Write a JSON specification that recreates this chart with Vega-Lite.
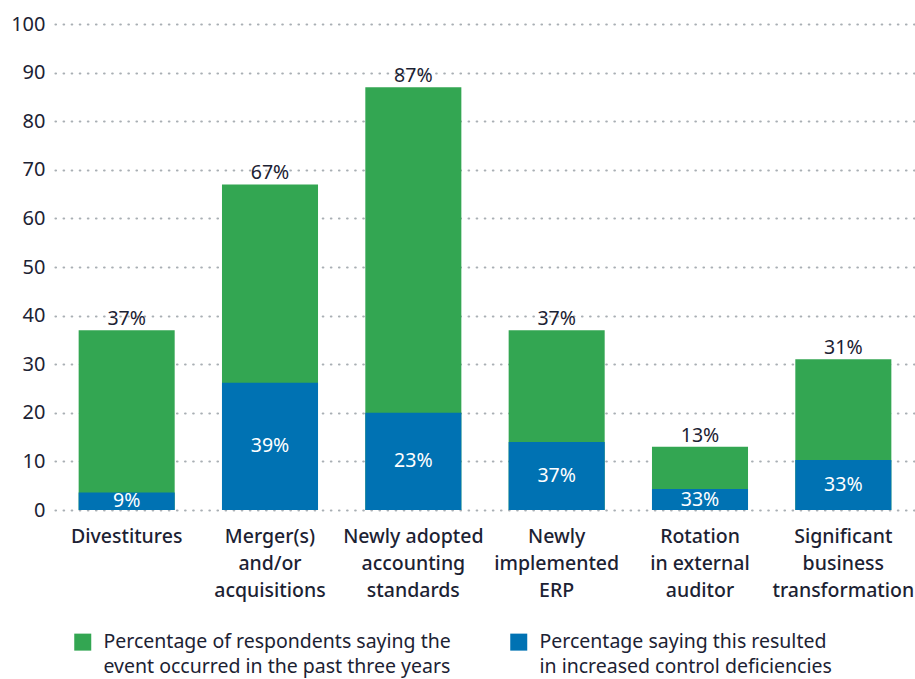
{
  "$schema": "https://vega.github.io/schema/vega-lite/v6.json",
  "width": 860,
  "height": 486,
  "autosize": "none",
  "padding": {"left": 55, "top": 24, "right": 0, "bottom": 169},
  "background": "white",
  "config": {
    "view": {"stroke": null},
    "font": "Noto Sans",
    "axis": {"domain": false, "ticks": false},
    "style": {"guide-label": {"lineHeight": 25}}
  },
  "data": {
    "values": [
      {"category": "Divestitures", "series": "Percentage of respondents saying the|event occurred in the past three years", "value": 37, "label": "37%"},
      {"category": "Merger(s)|and/or|acquisitions", "series": "Percentage of respondents saying the|event occurred in the past three years", "value": 67, "label": "67%"},
      {"category": "Newly adopted|accounting|standards", "series": "Percentage of respondents saying the|event occurred in the past three years", "value": 87, "label": "87%"},
      {"category": "Newly|implemented|ERP", "series": "Percentage of respondents saying the|event occurred in the past three years", "value": 37, "label": "37%"},
      {"category": "Rotation|in external|auditor", "series": "Percentage of respondents saying the|event occurred in the past three years", "value": 13, "label": "13%"},
      {"category": "Significant|business|transformation", "series": "Percentage of respondents saying the|event occurred in the past three years", "value": 31, "label": "31%"},
      {"category": "Divestitures", "series": "Percentage saying this resulted|in increased control deficiencies", "value": 3.6, "label": "9%"},
      {"category": "Merger(s)|and/or|acquisitions", "series": "Percentage saying this resulted|in increased control deficiencies", "value": 26.2, "label": "39%"},
      {"category": "Newly adopted|accounting|standards", "series": "Percentage saying this resulted|in increased control deficiencies", "value": 20.0, "label": "23%"},
      {"category": "Newly|implemented|ERP", "series": "Percentage saying this resulted|in increased control deficiencies", "value": 14.0, "label": "37%"},
      {"category": "Rotation|in external|auditor", "series": "Percentage saying this resulted|in increased control deficiencies", "value": 4.3, "label": "33%"},
      {"category": "Significant|business|transformation", "series": "Percentage saying this resulted|in increased control deficiencies", "value": 10.3, "label": "33%"}
    ]
  },
  "encoding": {
    "x": {
      "field": "category",
      "type": "nominal",
      "sort": null,
      "scale": {"paddingInner": 0.33, "paddingOuter": 0.165},
      "axis": {
        "title": null,
        "labelAngle": 0,
        "labelExpr": "split(datum.label, '|')",
        "labelFontSize": 19.5,
        "labelFontWeight": 500,
        "labelColor": "#1c2233",
        "labelLineHeight": 27,
        "labelPadding": 17,
        "labelLimit": 220,
        "grid": false
      }
    }
  },
  "layer": [
    {
      "mark": {"type": "bar"},
      "encoding": {
        "y": {
          "field": "value",
          "type": "quantitative",
          "stack": null,
          "scale": {"domain": [0, 100], "nice": false},
          "axis": {
            "title": null,
            "values": [0, 10, 20, 30, 40, 50, 60, 70, 80, 90, 100],
            "labelFontSize": 20,
            "labelColor": "#1c2233",
            "labelPadding": 10,
            "grid": true,
            "gridColor": "#a9afb4",
            "gridDash": [0.5, 7.6],
            "gridWidth": 2.2,
            "gridCap": "round"
          }
        },
        "color": {
          "field": "series",
          "type": "nominal",
          "sort": null,
          "scale": {"range": ["#33a652", "#0072b3"]},
          "legend": {
            "title": null,
            "orient": "none",
            "legendX": 18,
            "legendY": 608,
            "direction": "horizontal",
            "symbolType": "square",
            "symbolSize": 289,
            "symbolStrokeWidth": 0,
            "labelExpr": "split(datum.label, '|')",
            "labelFontSize": 19.5,
            "labelColor": "#1c2233",
            "labelLimit": 500,
            "labelOffset": 11,
            "columnPadding": 58
          }
        }
      }
    },
    {
      "transform": [{"filter": "indexof(datum.series, 'respondents') >= 0"}],
      "mark": {"type": "text", "baseline": "bottom", "dy": -1, "fontSize": 19.5, "color": "#1c2233"},
      "encoding": {
        "y": {"field": "value", "type": "quantitative"},
        "text": {"field": "label"}
      }
    },
    {
      "transform": [{"filter": "indexof(datum.series, 'deficiencies') >= 0"}, {"calculate": "datum.value / 2", "as": "mid"}],
      "mark": {"type": "text", "baseline": "middle", "fontSize": 19.5, "color": "white"},
      "encoding": {
        "y": {"field": "mid", "type": "quantitative"},
        "text": {"field": "label"}
      }
    }
  ]
}
